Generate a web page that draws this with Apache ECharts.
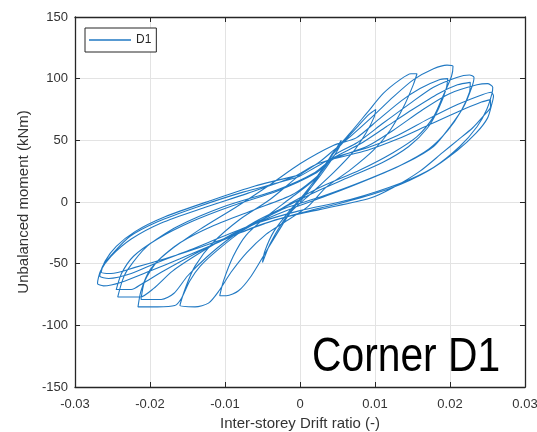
<!DOCTYPE html>
<html><head><meta charset="utf-8">
<script src="https://cdn.jsdelivr.net/npm/echarts@6/dist/echarts.min.js"></script>
<style>html,body{margin:0;padding:0;background:#fff}#c{width:537px;height:432px}</style>
</head><body><div id="c"></div>
<script>
// Hysteresis cycles: [drift ratio, moment kNm]
const loop1 = [[0,0],[0.0015,12],[0.003,26],[0.0045,40],[0.0055,50],[0.0052,44],[0.0035,28],[0.0015,12],[-0.0005,-2],[-0.0025,-18],[-0.004,-34],[-0.005,-49],[-0.0047,-40],[-0.0035,-24],[-0.0015,-8],[0.0005,6],[0.002,18]];
const loop2 = [[0.004,36],[0.006,50],[0.0078,62],[0.0092,71],[0.0101,75],[0.0099,69],[0.0088,56],[0.007,40],[0.0045,24],[0.0015,7],[-0.0012,-8],[-0.0027,-22],[-0.0045,-40],[-0.0065,-60],[-0.0082,-72],[-0.0098,-76],[-0.0107,-76],[-0.0102,-64],[-0.0089,-44],[-0.0072,-27],[-0.0045,-12],[-0.0015,2],[0.0015,16],[0.003,26]];
const loop3 = [[0.0044,40],[0.0067,56],[0.0089,72],[0.0111,88],[0.0133,99],[0.0148,104],[0.0156,104],[0.0151,95],[0.0138,77],[0.012,58],[0.0098,42],[0.0067,26],[0.0035,12],[0.001,-4],[-0.0025,-18],[-0.0045,-26],[-0.0071,-41],[-0.0092,-57],[-0.0108,-72],[-0.0122,-82],[-0.014,-85],[-0.016,-84],[-0.0153,-70],[-0.014,-52],[-0.0116,-33],[-0.008,-14],[-0.004,2],[0,22],[0.0025,32]];
const loop4 = [[0.0045,42],[0.0067,53],[0.0098,70],[0.0124,85],[0.0151,99],[0.0178,108],[0.0196,111],[0.0204,110],[0.0202,102],[0.019,85],[0.0178,69],[0.0156,53],[0.0124,40],[0.008,26],[0.0027,12],[-0.001,0],[-0.004,-11],[-0.0076,-23],[-0.011,-39],[-0.0133,-52],[-0.0147,-64],[-0.0158,-78],[-0.0167,-84],[-0.019,-85],[-0.0216,-85],[-0.0212,-72],[-0.02,-55],[-0.0177,-41],[-0.0133,-22],[-0.0085,-4],[-0.004,14],[0,31],[0.0045,46]];
const loop5 = [[0.0075,52],[0.0105,67],[0.0135,82],[0.016,92],[0.0185,99],[0.0197,100],[0.0195,92],[0.0185,76],[0.017,60],[0.0145,45],[0.011,32],[0.0065,20],[0.002,8],[-0.002,-4],[-0.006,-16],[-0.0095,-30],[-0.0125,-45],[-0.015,-60],[-0.0168,-74],[-0.0185,-79],[-0.0212,-79],[-0.0207,-64],[-0.019,-48],[-0.016,-33],[-0.0115,-19],[-0.006,-6],[-0.001,6],[0.0025,22]];
const loop6 = [[0.0046,38],[0.0076,48],[0.0111,64],[0.0147,80],[0.0178,93],[0.0209,101],[0.0226,103],[0.0232,101],[0.0229,93],[0.0218,77],[0.02,61],[0.0178,45],[0.0142,32],[0.0089,18],[0.0027,4],[-0.002,-5],[-0.005,-14],[-0.009,-26],[-0.013,-40],[-0.017,-56],[-0.0195,-70],[-0.0213,-77],[-0.0243,-77],[-0.0237,-64],[-0.023,-55],[-0.0204,-36],[-0.0164,-20],[-0.0103,-4],[-0.003,10],[0.002,24]];
const loop7 = [[0.0045,36],[0.008,47],[0.0115,61],[0.015,75],[0.0185,88],[0.021,95],[0.0227,97],[0.0226,89],[0.0215,74],[0.0197,58],[0.0172,43],[0.0135,30],[0.009,18],[0.004,6],[-0.001,-5],[-0.005,-15],[-0.0095,-28],[-0.014,-42],[-0.0182,-56],[-0.021,-66],[-0.0225,-71],[-0.0245,-71],[-0.0238,-58],[-0.0222,-44],[-0.019,-30],[-0.0145,-16],[-0.009,-3],[-0.003,9],[0.002,23]];
const loop8 = [[0.0045,35],[0.0089,45],[0.0124,58],[0.0164,75],[0.02,88],[0.0236,95],[0.025,96],[0.0257,93],[0.0256,88],[0.0249,75],[0.0236,61],[0.0213,45],[0.0178,28],[0.0133,15],[0.0067,2],[0,-7],[-0.0057,-17],[-0.0103,-28],[-0.0147,-39],[-0.019,-49],[-0.0225,-58],[-0.0255,-62],[-0.0267,-60],[-0.0263,-52],[-0.0253,-44],[-0.0227,-28],[-0.019,-16],[-0.0137,-4],[-0.0076,8],[-0.0004,20],[0.002,28]];
const loop9 = [[0.0045,36],[0.009,44],[0.013,54],[0.017,67],[0.021,79],[0.0243,87],[0.0255,89],[0.0258,86],[0.0256,80],[0.025,68],[0.0235,56],[0.021,42],[0.017,25],[0.012,11],[0.006,0],[0,-9],[-0.006,-20],[-0.011,-33],[-0.016,-46],[-0.02,-56],[-0.0238,-65],[-0.0262,-68],[-0.027,-66],[-0.0266,-56],[-0.0252,-44],[-0.0225,-30],[-0.0185,-17],[-0.013,-5],[-0.007,7],[-0.001,20],[0.002,30]];
const loop10 = [[0.0045,35],[0.009,42],[0.013,51],[0.017,62],[0.021,73],[0.0242,81],[0.0254,83],[0.0254,77],[0.0245,70],[0.023,60],[0.021,50],[0.019,40],[0.016,25],[0.0125,12],[0.0093,3],[0.0027,-6],[-0.003,-14],[-0.008,-25],[-0.013,-36],[-0.018,-46],[-0.022,-53],[-0.0252,-58],[-0.0265,-57],[-0.026,-48],[-0.0245,-36],[-0.022,-24],[-0.018,-12],[-0.012,1],[-0.006,13],[0,22]];

const xTicks = [-0.03, -0.02, -0.01, 0, 0.01, 0.02, 0.03];
const yTicks = [-150, -100, -50, 0, 50, 100, 150];
const seriesName = 'D1';
const annotation = 'Corner D1';
const xTitle = 'Inter-storey Drift ratio (-)';
const yTitle = 'Unbalanced moment (kNm)';

const data = [].concat(loop1, loop2, loop3, loop4, loop5, loop6, loop7, loop8, loop9, loop10);

const axisColor = '#262626';
const labelColor = '#333333';
const lineColor = '#2179c3';
const font = '"Liberation Sans", Arial, sans-serif';
const yStep = yTicks[1] - yTicks[0];

function xAx(extra) {
  return Object.assign({
    type: 'value', min: xTicks[0], max: xTicks[xTicks.length - 1], interval: 0.01,
    axisLine: { show: true, onZero: false, lineStyle: { color: axisColor, width: 1.3 } },
    axisTick: { show: true, inside: true, length: 5, lineStyle: { color: axisColor } },
    splitLine: { show: false }
  }, extra);
}
function yAx(extra) {
  return Object.assign({
    type: 'value', min: yTicks[0], max: yTicks[yTicks.length - 1], interval: yStep,
    axisLine: { show: true, onZero: false, lineStyle: { color: axisColor, width: 1.3 } },
    axisTick: { show: true, inside: true, length: 5, lineStyle: { color: axisColor } },
    splitLine: { show: false }
  }, extra);
}

const chart = echarts.init(document.getElementById('c'), null, { renderer: 'canvas' });
chart.setOption({
  animation: false,
  backgroundColor: '#fff',
  grid: { left: 75, right: 12, top: 17, bottom: 45, containLabel: false, outerBoundsMode: 'none' },
  legend: {
    data: [{ name: seriesName, icon: 'rect' }], left: 85, top: 28,
    padding: [6, 5, 6, 4], itemWidth: 42, itemHeight: 1.3,
    borderColor: axisColor, borderWidth: 1, backgroundColor: '#fff',
    textStyle: { fontFamily: font, fontSize: 12, color: axisColor }
  },
  xAxis: [
    xAx({
      position: 'bottom',
      name: xTitle, nameLocation: 'middle', nameGap: 29,
      nameTextStyle: { fontFamily: font, fontSize: 15, color: labelColor },
      axisLabel: { fontFamily: font, fontSize: 13, color: labelColor, margin: 11,
        formatter: v => (Math.abs(v) < 1e-9 ? '0' : v.toFixed(2)) },
      splitLine: { show: true, lineStyle: { color: '#e3e3e3', width: 1 } }
    }),
    xAx({ position: 'top', axisLabel: { show: false } })
  ],
  yAxis: [
    yAx({
      position: 'left',
      name: yTitle, nameLocation: 'middle', nameGap: 38,
      nameTextStyle: { fontFamily: font, fontSize: 15, color: labelColor },
      axisLabel: { fontFamily: font, fontSize: 13, color: labelColor, margin: 7 },
      splitLine: { show: true, lineStyle: { color: '#e3e3e3', width: 1 } }
    }),
    yAx({ position: 'right', axisLabel: { show: false } })
  ],
  graphic: [{
    type: 'text', x: 312, y: 358, scaleX: 0.85, z: 100,
    style: { text: annotation, font: '48px "Liberation Sans", Arial, sans-serif', fill: '#000', align: 'left', verticalAlign: 'middle' }
  }],
  series: [{
    name: seriesName, type: 'line', data: data,
    xAxisIndex: 0, yAxisIndex: 0,
    symbol: 'none', showSymbol: false, smooth: 0.25,
    lineStyle: { color: lineColor, width: 1.1 },
    itemStyle: { color: lineColor }
  }]
});
</script></body></html>
